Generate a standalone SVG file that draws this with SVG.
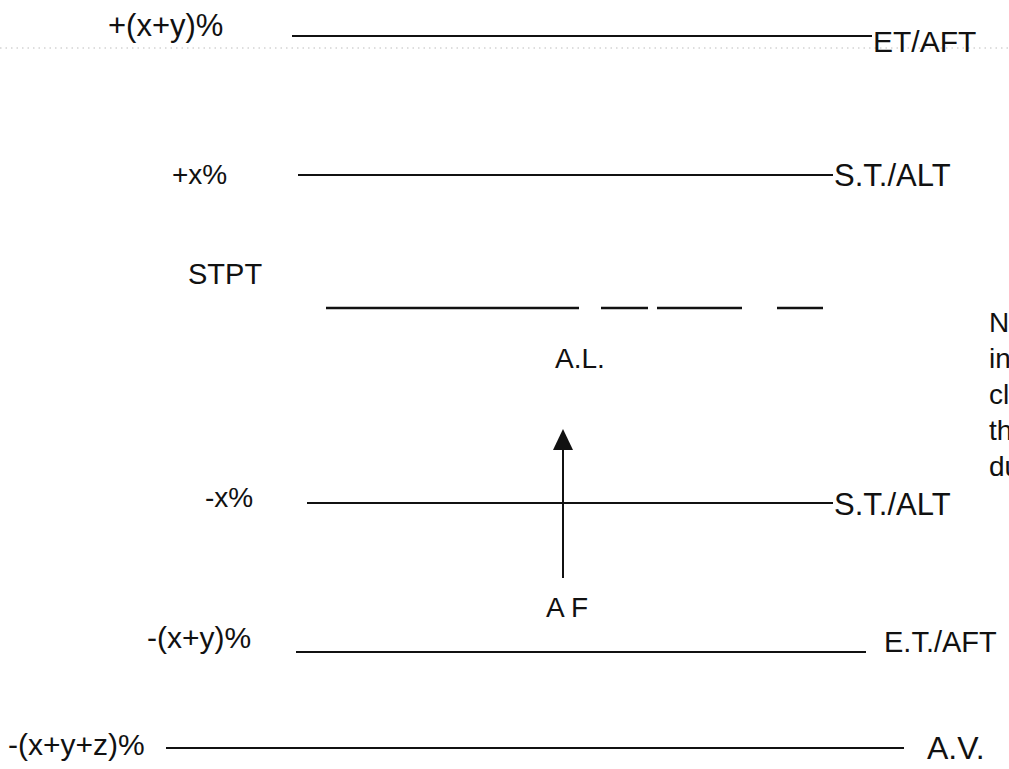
<svg xmlns="http://www.w3.org/2000/svg" width="1009" height="769" viewBox="0 0 1009 769">
  <style>
    .lbl { font-family: "Liberation Sans", Arial, sans-serif; fill: #111; }
    .lvl { stroke: #111; stroke-width: 2; fill: none; }
    .dash { stroke: #111; stroke-width: 2.5; fill: none; }
  </style>
  <rect width="1009" height="769" fill="#fff"/>

  <!-- faint dotted rule near the top -->
  <line x1="0" y1="48" x2="1009" y2="48" stroke="#bdbdbd" stroke-width="1" stroke-dasharray="1.5 4"/>

  <g id="level-upper-et">
    <text class="lbl" x="108" y="36" font-size="31">+(x+y)%</text>
    <text class="lbl" x="873" y="52" font-size="30">ET/AFT</text>
  </g>
  <g id="level-upper-st">
    <text class="lbl" x="172" y="184" font-size="28">+x%</text>
    <text class="lbl" x="834" y="186" font-size="31">S.T./ALT</text>
  </g>
  <g id="level-setpoint">
    <text class="lbl" x="188" y="284" font-size="29">STPT</text>
  </g>
  <g id="alarm-label">
    <text class="lbl" x="580" y="368" font-size="28" text-anchor="middle">A.L.</text>
  </g>
  <g id="level-lower-st">
    <text class="lbl" x="205" y="507" font-size="28">-x%</text>
    <text class="lbl" x="834" y="515" font-size="31">S.T./ALT</text>
  </g>
  <g id="af-label">
    <text class="lbl" x="546" y="617" font-size="28">A F</text>
  </g>
  <g id="level-lower-et">
    <text class="lbl" x="147" y="648" font-size="30">-(x+y)%</text>
    <text class="lbl" x="884" y="652" font-size="29">E.T./AFT</text>
  </g>
  <g id="level-av">
    <text class="lbl" x="8" y="755" font-size="30">-(x+y+z)%</text>
    <text class="lbl" x="927" y="759" font-size="32">A.V.</text>
  </g>
  <g id="side-note">
    <text class="lbl" font-size="28">
      <tspan x="989" y="332">N</tspan>
      <tspan x="989" y="368">in</tspan>
      <tspan x="989" y="404">cl</tspan>
      <tspan x="989" y="440">th</tspan>
      <tspan x="989" y="476">du</tspan>
    </text>
  </g>

  <g id="connectors">
    <line class="lvl" x1="292" y1="36" x2="872" y2="36"/>
    <line class="lvl" x1="298" y1="175" x2="833" y2="175"/>
    <line class="dash" x1="326" y1="308" x2="579" y2="308"/>
    <line class="dash" x1="601" y1="308" x2="648" y2="308"/>
    <line class="dash" x1="657" y1="308" x2="742" y2="308"/>
    <line class="dash" x1="777" y1="308" x2="823" y2="308"/>
    <line class="lvl" x1="307" y1="503" x2="833" y2="503"/>
    <line class="lvl" x1="296" y1="652" x2="866" y2="652"/>
    <line class="lvl" x1="166" y1="748" x2="904" y2="748"/>
    <!-- upward arrow from A F toward A.L. -->
    <line class="lvl" x1="563" y1="578" x2="563" y2="446"/>
    <polygon points="563,429 553,450 573,450" fill="#111"/>
  </g>
</svg>
